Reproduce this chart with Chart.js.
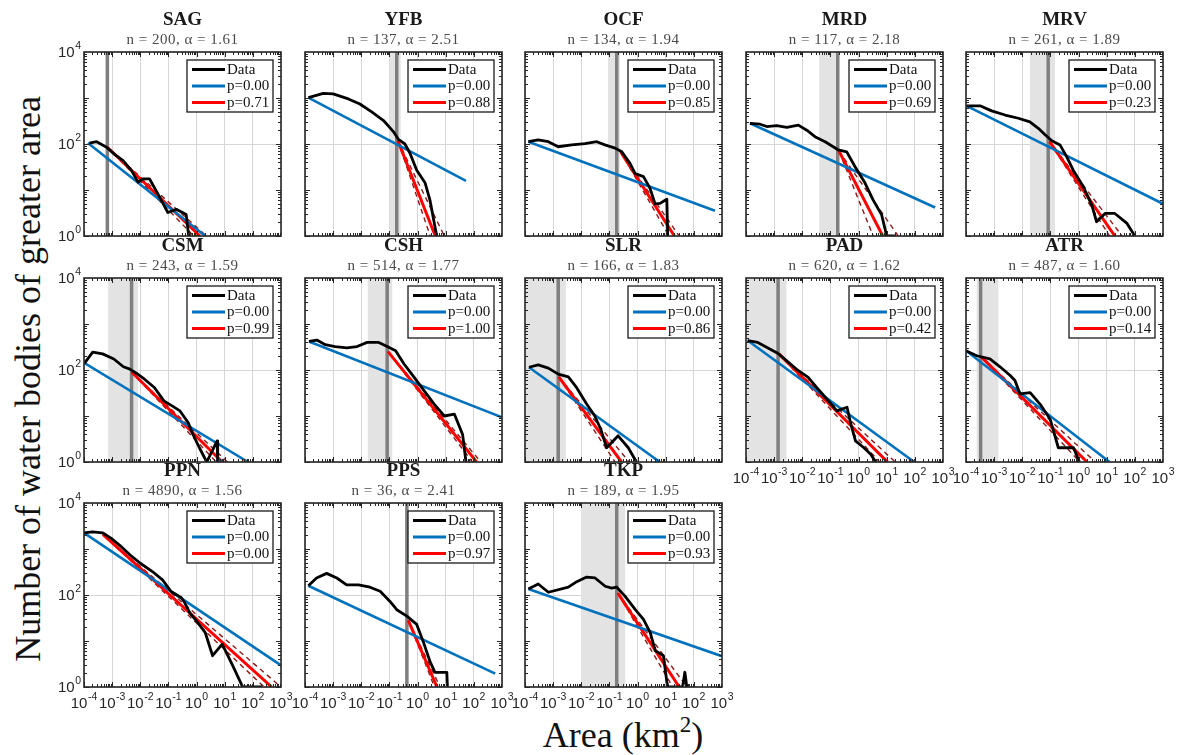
<!DOCTYPE html>
<html><head><meta charset="utf-8">
<script src="https://cdn.jsdelivr.net/npm/chart.js@4.4.0/dist/chart.umd.min.js"></script>
<style>
html,body{margin:0;padding:0;background:#fff;overflow:hidden;}
#wrap{position:relative;width:1178px;height:755px;}
canvas{position:absolute;left:0;top:0;}
.axt{position:absolute;font-family:"Liberation Serif",serif;font-size:36px;color:#111;white-space:nowrap;text-align:center;}
</style></head><body>
<div id="wrap">
<div class="axt" id="ylab" style="left:-322px;top:358px;width:700px;height:42px;line-height:42px;transform:rotate(-90deg);">Number of water bodies of greater area</div>
<div class="axt" id="xlab" style="left:473px;top:714px;width:300px;height:42px;line-height:42px;">Area (km<span style="font-size:23px;vertical-align:15px;line-height:0">2</span>)</div>
</div>
<script>
// ---- panel meta ----
const panelNames = ['SAG','YFB','OCF','MRD','MRV','CSM','CSH','SLR','PAD','ATR','PPN','PPS','TKP'];
const panelN     = [200,137,134,117,261,243,514,166,620,487,4890,36,189];
const panelAlpha = ['1.61','2.51','1.94','2.18','1.89','1.59','1.77','1.83','1.62','1.60','1.56','2.41','1.95'];
const blueP      = ['0.00','0.00','0.00','0.00','0.00','0.00','0.00','0.00','0.00','0.00','0.00','0.00','0.00'];
const redP       = ['0.71','0.88','0.85','0.69','0.23','0.99','1.00','0.86','0.42','0.14','0.00','0.97','0.93'];
const showYTicks = [true,false,false,false,false,true,false,false,false,false,true,false,false];
const showXTicks = [false,false,false,false,false,false,false,false,true,true,true,true,true];

// axis tick exponents
const xTickExp = [-4,-3,-2,-1,0,1,2,3];
const yTickExp = [0,2,4];

// ---- observed data curves, [log10 area (km2), log10 count] ----
const dataSAG = [[-3.81,2.02],[-3.55,2.05],[-3.2,1.93],[-2.9,1.77],[-2.61,1.64],[-2.31,1.42],[-2.08,1.17],[-1.9,1.24],[-1.67,1.24],[-1.37,0.91],[-1.02,0.51],[-0.72,0.58],[-0.37,0.47],[-0.28,0]];
const dataYFB = [[-3.88,3.01],[-3.35,3.1],[-3.0,3.09],[-2.46,2.98],[-2.05,2.87],[-1.63,2.7],[-1.21,2.51],[-0.86,2.27],[-0.68,2.1],[-0.45,2.0],[-0.27,1.8],[-0.03,1.43],[0.27,1.15],[0.44,0.78],[0.68,0]];
const dataOCF = [[-3.88,2.05],[-3.53,2.09],[-3.17,2.05],[-2.82,1.94],[-2.34,1.98],[-1.87,2.01],[-1.45,2.05],[-1.16,1.98],[-0.8,1.91],[-0.56,1.83],[-0.27,1.58],[-0.09,1.36],[0.21,1.29],[0.44,1.04],[0.62,0.7],[0.8,0.71],[1.04,0.8],[1.07,0]];
const dataMRD = [[-3.86,2.45],[-3.5,2.43],[-3.26,2.38],[-2.91,2.4],[-2.55,2.36],[-2.14,2.41],[-1.84,2.3],[-1.55,2.16],[-1.19,2.05],[-0.9,1.94],[-0.72,1.87],[-0.42,1.83],[-0.13,1.51],[0.23,1.15],[0.52,0.78],[0.82,0.46],[1.0,0],[1.29,0]];
const dataMRV = [[-3.98,2.83],[-3.5,2.83],[-3.09,2.72],[-2.61,2.63],[-2.14,2.56],[-1.73,2.48],[-1.43,2.34],[-1.19,2.2],[-0.95,2.07],[-0.66,1.98],[-0.42,1.72],[-0.19,1.43],[0.17,1.07],[0.47,0.67],[0.64,0.31],[0.94,0.49],[1.29,0.49],[1.71,0.28],[2.0,0]];
const dataCSM = [[-3.98,2.15],[-3.69,2.39],[-3.34,2.35],[-2.94,2.24],[-2.6,2.07],[-2.37,2.02],[-2.14,1.93],[-1.85,1.8],[-1.5,1.62],[-1.16,1.33],[-0.87,1.22],[-0.59,1.11],[-0.3,0.86],[-0.13,0.6],[0.1,0.31],[0.36,0],[0.73,0.46],[0.75,0]];
const dataCSH = [[-3.86,2.62],[-3.58,2.65],[-3.28,2.55],[-2.93,2.51],[-2.51,2.48],[-2.15,2.51],[-1.79,2.6],[-1.38,2.6],[-1.08,2.51],[-0.78,2.42],[-0.48,2.13],[-0.12,1.84],[0.23,1.55],[0.59,1.26],[0.95,1.0],[1.31,1.04],[1.6,0.6],[1.72,0]];
const dataSLR = [[-3.86,2.06],[-3.53,2.11],[-3.17,2.04],[-2.82,1.91],[-2.46,1.85],[-2.17,1.62],[-1.81,1.26],[-1.52,1.0],[-1.3,0.7],[-1.1,0.31],[-0.69,0.57],[-0.33,0.31],[-0.04,0]];
const dataPAD = [[-3.94,2.64],[-3.58,2.6],[-3.22,2.48],[-2.86,2.36],[-2.5,2.17],[-2.15,1.99],[-1.79,1.84],[-1.49,1.62],[-1.13,1.37],[-0.77,1.11],[-0.41,1.19],[-0.29,0.86],[-0.11,0.46],[0.19,0.31],[0.43,0.17],[0.61,0]];
const dataATR = [[-4,2.42],[-3.62,2.31],[-3.15,2.24],[-2.79,2.07],[-2.43,1.88],[-2.26,1.77],[-2.08,1.48],[-1.72,1.51],[-1.37,1.26],[-1.01,0.93],[-0.72,0.31],[-0.18,0.31],[0.03,0]];
const dataPPN = [[-4,3.35],[-3.7,3.37],[-3.33,3.35],[-3.03,3.23],[-2.73,3.08],[-2.36,2.87],[-2.0,2.69],[-1.57,2.51],[-1.21,2.33],[-0.91,2.08],[-0.54,1.94],[-0.42,1.83],[-0.24,1.61],[0.0,1.43],[0.31,1.18],[0.57,0.68],[0.91,0.93],[1.28,0.47],[1.64,0],[2.31,0]];
const dataPPS = [[-3.88,2.2],[-3.59,2.37],[-3.23,2.47],[-2.87,2.37],[-2.52,2.22],[-2.1,2.22],[-1.69,2.17],[-1.33,2.08],[-0.98,1.86],[-0.74,1.68],[-0.38,1.54],[-0.03,1.36],[0.21,0.97],[0.45,0.54],[0.62,0.32],[1.04,0.32],[1.06,0]];
const dataTKP = [[-3.88,2.13],[-3.53,2.24],[-3.17,2.06],[-2.46,2.17],[-2.16,2.29],[-1.81,2.39],[-1.51,2.37],[-1.15,2.19],[-0.92,2.15],[-0.74,2.17],[-0.44,1.97],[-0.08,1.68],[0.21,1.47],[0.45,1.18],[0.63,0.79],[0.92,0.68],[1.04,0.11],[1.08,0],[1.6,0],[1.68,0.32],[1.75,0]];
const dataCurves = [dataSAG,dataYFB,dataOCF,dataMRD,dataMRV,dataCSM,dataCSH,dataSLR,dataPAD,dataATR,dataPPN,dataPPS,dataTKP];

// blue fit (all data): [logA0, logN0, logA1, logN1]
const blueFit = [[-3.86,2.02,0.31,0],[-3.88,3.01,1.72,1.2],[-3.88,2.05,2.75,0.55],[-3.86,2.45,2.72,0.62],[-3.98,2.83,3.0,0.7],
                 [-3.98,2.15,1.83,0],[-3.86,2.62,3.0,0.97],[-3.86,2.06,0.79,0],[-3.94,2.64,1.98,0],[-4,2.42,1.1,0],
                 [-4,3.35,3.0,0.47],[-3.88,2.2,2.76,0.29],[-3.88,2.13,3.0,0.67]];
// red fit (tail above xmin): [logA0, logN0, logA at N=1]
const redFit = [[-3.17,1.93,0.12],[-0.7,2.07,0.63],[-0.6,1.83,1.31],[-0.7,1.85,0.86],[-1.03,2.05,1.29],
                [-2.3,1.95,0.91],[-1.05,2.4,2.1],[-2.8,1.85,-0.57],[-2.83,2.35,1.03],[-3.45,2.28,0.3],
                [-3.33,3.32,2.67],[-0.33,1.45,0.69],[-0.7,2.04,1.48]];
// confidence bounds end points (log area at N=1): [low, high]
const redBounds = [[-0.1,0.35],[0.45,0.95],[1.12,1.48],[0.52,1.41],[1.1,1.55],
                   [0.7,1.1],[1.95,2.25],[-0.8,-0.3],[0.75,1.3],[0.05,0.6],
                   [2.4,3.0],[0.6,0.8],[1.25,1.75]];
// xmin estimate and its uncertainty band (log area)
const xminLog = [-3.17,-0.74,-0.74,-0.74,-1.08,-2.31,-1.08,-2.82,-2.86,-3.48,null,-0.38,-0.74];
const xminBand = [[-3.22,-3.12],[-1.0,-0.6],[-1.05,-0.63],[-1.4,-0.69],[-1.73,-0.84],[-3.14,-2.08],[-1.77,-0.9],[-4,-2.55],[-4,-2.56],[-3.62,-2.85],null,[-0.43,-0.33],[-2.01,-0.44]];

// ---- layout ----
const colLeft = [84,305,525,746,966];
const rowTop = [52,278,503];
const PW = 197, PH = 184, CW = 1178, CH = 755;

const SERIF = '"Liberation Serif", "Times New Roman", serif';
const SANS = '"Liberation Sans", Arial, sans-serif';

function P(e){ return Math.pow(10, e); }

function drawPow(ctx, exp, x, y, align){
  ctx.save();
  ctx.fillStyle = '#262626';
  ctx.textBaseline = 'middle';
  ctx.textAlign = 'left';
  ctx.font = '15px ' + SANS;
  const wb = ctx.measureText('10').width;
  ctx.font = '10.5px ' + SANS;
  const sup = String(exp);
  const ws = ctx.measureText(sup).width;
  const tot = wb + ws + 0.5;
  let sx = align === 'right' ? x - tot : x - tot / 2;
  ctx.font = '15px ' + SANS;
  ctx.fillText('10', sx, y);
  ctx.font = '10.5px ' + SANS;
  ctx.fillText(sup, sx + wb + 0.5, y - 6.5);
  ctx.restore();
}

function panelPlugin(i){
  return {
    id: 'panel' + i,
    beforeDatasetsDraw(chart){
      const {ctx, chartArea: a, scales: {x}} = chart;
      ctx.save();
      ctx.beginPath(); ctx.rect(a.left, a.top, a.right - a.left, a.bottom - a.top); ctx.clip();
      const b = xminBand[i];
      if (b){
        const x0 = x.getPixelForValue(P(b[0])), x1 = x.getPixelForValue(P(b[1]));
        ctx.fillStyle = '#e3e3e3';
        ctx.fillRect(x0, a.top, x1 - x0, a.bottom - a.top);
      }
      if (xminLog[i] !== null){
        const px = x.getPixelForValue(P(xminLog[i]));
        ctx.strokeStyle = '#7f7f7f'; ctx.lineWidth = 3.5;
        ctx.beginPath(); ctx.moveTo(px, a.top); ctx.lineTo(px, a.bottom); ctx.stroke();
      }
      ctx.restore();
    },
    afterDraw(chart){
      const {ctx, chartArea: a, scales: {x, y}} = chart;
      ctx.save();
      // minor / major ticks inward
      ctx.strokeStyle = '#262626'; ctx.lineWidth = 1;
      ctx.beginPath();
      for (let d = -4; d < 3; d++){
        for (let m = 1; m < 10; m++){
          const px = Math.round(x.getPixelForValue(m * P(d))) + 0.5;
          const len = m === 1 ? 5 : 3;
          ctx.moveTo(px, a.bottom); ctx.lineTo(px, a.bottom - len);
          ctx.moveTo(px, a.top); ctx.lineTo(px, a.top + len);
        }
      }
      for (let d = 0; d < 4; d++){
        for (let m = 1; m < 10; m++){
          const py = Math.round(y.getPixelForValue(m * P(d))) + 0.5;
          const len = m === 1 ? 5 : 3;
          ctx.moveTo(a.left, py); ctx.lineTo(a.left + len, py);
          ctx.moveTo(a.right, py); ctx.lineTo(a.right - len, py);
        }
      }
      ctx.stroke();
      // frame
      ctx.strokeStyle = '#262626'; ctx.lineWidth = 1.6;
      ctx.strokeRect(a.left, a.top, a.right - a.left, a.bottom - a.top);
      // legend
      const bw = 86, bh = 52;
      const bx = a.right - 8 - bw, by = a.top + 8;
      ctx.fillStyle = '#fff';
      ctx.fillRect(bx, by, bw, bh);
      ctx.lineWidth = 1.3; ctx.strokeStyle = '#1a1a1a';
      ctx.strokeRect(bx, by, bw, bh);
      const items = [['Data', '#000000'], ['p=' + blueP[i], '#0072BD'], ['p=' + redP[i], '#FF0000']];
      items.forEach((it, k) => {
        const ly = by + 9.5 + k * 16.5;
        ctx.strokeStyle = it[1]; ctx.lineWidth = 3;
        ctx.beginPath(); ctx.moveTo(bx + 5, ly); ctx.lineTo(bx + 38, ly); ctx.stroke();
        ctx.fillStyle = '#111'; ctx.font = '15px ' + SERIF;
        ctx.textAlign = 'left'; ctx.textBaseline = 'middle';
        ctx.fillText(it[0], bx + 40, ly + 0.5);
      });
      // titles
      const cx = (a.left + a.right) / 2;
      ctx.textAlign = 'center'; ctx.textBaseline = 'middle';
      ctx.fillStyle = '#1a1a1a'; ctx.font = 'bold 19px ' + SERIF;
      ctx.fillText(panelNames[i], cx, a.top - 32);
      ctx.fillStyle = '#4a4a4a'; ctx.font = '15px ' + SERIF;
      if ('letterSpacing' in ctx) ctx.letterSpacing = '0.5px';
      ctx.fillText('n = ' + panelN[i] + ', \u03B1 = ' + panelAlpha[i], cx, a.top - 12);
      if ('letterSpacing' in ctx) ctx.letterSpacing = '0px';
      ctx.restore();
      // tick labels
      if (showYTicks[i]) yTickExp.forEach(e => drawPow(ctx, e, a.left - 3, y.getPixelForValue(P(e)) + 1, 'right'));
      if (showXTicks[i]) xTickExp.forEach(e => drawPow(ctx, e, x.getPixelForValue(P(e)), a.bottom + 17, 'center'));
    }
  };
}

const wrap = document.getElementById('wrap');
panelNames.forEach((name, i) => {
  const col = i % 5, row = Math.floor(i / 5);
  const L = colLeft[col], T = rowTop[row];
  const cv = document.createElement('canvas');
  cv.width = CW; cv.height = CH;
  cv.style.width = CW + 'px'; cv.style.height = CH + 'px';
  wrap.appendChild(cv);
  const bf = blueFit[i], rf = redFit[i], rb = redBounds[i];
  const pts = arr => arr.map(p => ({x: P(p[0]), y: P(p[1])}));
  new Chart(cv, {
    type: 'line',
    data: {
      datasets: [
        {label: 'Data', data: pts(dataCurves[i]), borderColor: '#000000', borderWidth: 2.8},
        {label: 'p=' + blueP[i], data: pts([[bf[0], bf[1]], [bf[2], bf[3]]]), borderColor: '#0072BD', borderWidth: 2.6},
        {label: 'p=' + redP[i], data: pts([[rf[0], rf[1]], [rf[2], 0]]), borderColor: '#FF0000', borderWidth: 3},
        {label: 'lo', data: pts([[rf[0], rf[1]], [rb[0], 0]]), borderColor: '#8B1A1A', borderWidth: 1.4, borderDash: [5, 4]},
        {label: 'hi', data: pts([[rf[0], rf[1]], [rb[1], 0]]), borderColor: '#8B1A1A', borderWidth: 1.4, borderDash: [5, 4]}
      ]
    },
    options: {
      responsive: false, animation: false, devicePixelRatio: 1,
      layout: {autoPadding: false, padding: {left: L, top: T, right: CW - L - PW, bottom: CH - T - PH}},
      plugins: {legend: {display: false}, tooltip: {enabled: false}, title: {display: false}},
      elements: {point: {radius: 0, hoverRadius: 0}, line: {tension: 0, borderJoinStyle: 'round', fill: false}},
      events: [],
      scales: {
        x: {type: 'logarithmic', min: 1e-4, max: 1e3,
            ticks: {display: false}, grid: {color: '#d6d6d6', lineWidth: 1, drawTicks: false}, border: {display: false},
            afterBuildTicks: s => { s.ticks = xTickExp.map(e => ({value: P(e)})); },
            afterFit: s => { s.height = 0; }},
        y: {type: 'logarithmic', min: 1, max: 1e4,
            ticks: {display: false}, grid: {color: '#d6d6d6', lineWidth: 1, drawTicks: false}, border: {display: false},
            afterBuildTicks: s => { s.ticks = yTickExp.map(e => ({value: P(e)})); },
            afterFit: s => { s.width = 0; }}
      }
    },
    plugins: [panelPlugin(i)]
  });
});
</script>
</body></html>
